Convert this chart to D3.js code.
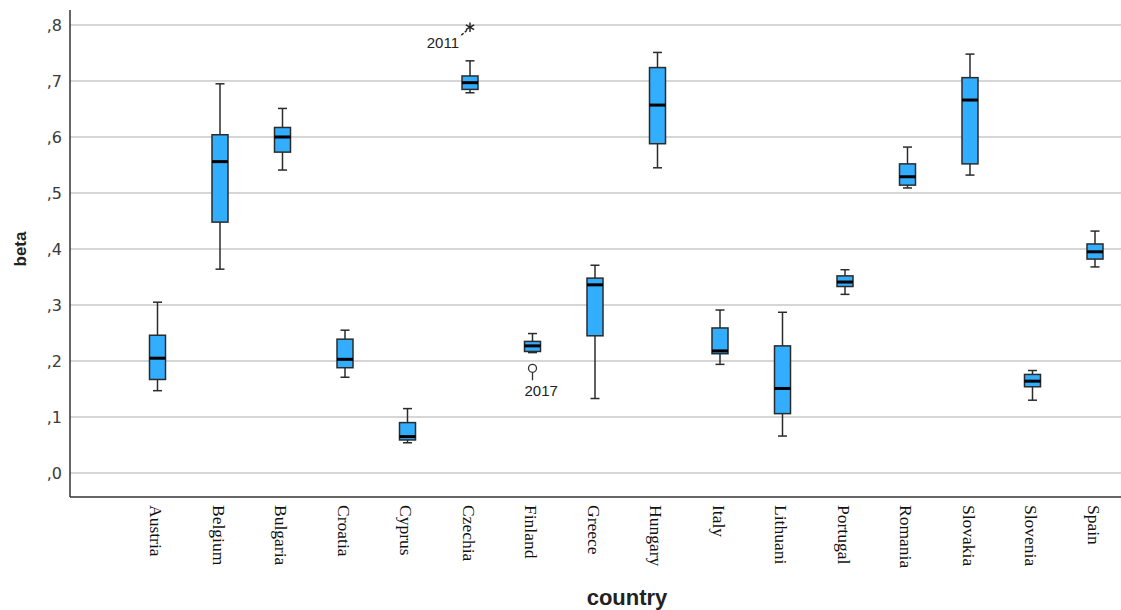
<!DOCTYPE html>
<html>
<head>
<meta charset="utf-8">
<script src="https://cdn.jsdelivr.net/npm/d3@7"></script>
<style>
  html, body { margin: 0; padding: 0; background: #fff; }
  svg { display: block; }
</style>
</head>
<body>
<svg id="chart" width="1121" height="610"></svg>
<script>
// Beta by country: five-number summaries per country
const countries = ["Austria", "Belgium", "Bulgaria", "Croatia", "Cyprus", "Czechia", "Finland", "Greece",
  "Hungary", "Italy", "Lithuani", "Portugal", "Romania", "Slovakia", "Slovenia", "Spain"];
const whiskerLow  = [0.147, 0.364, 0.541, 0.171, 0.054, 0.679, 0.215, 0.133, 0.545, 0.194, 0.066, 0.319, 0.509, 0.532, 0.130, 0.368];
const q1          = [0.167, 0.448, 0.573, 0.188, 0.059, 0.685, 0.217, 0.245, 0.588, 0.213, 0.106, 0.333, 0.514, 0.552, 0.154, 0.382];
const median      = [0.205, 0.556, 0.600, 0.203, 0.065, 0.697, 0.227, 0.336, 0.657, 0.218, 0.151, 0.341, 0.529, 0.666, 0.164, 0.395];
const q3          = [0.246, 0.604, 0.617, 0.239, 0.090, 0.709, 0.235, 0.348, 0.724, 0.259, 0.227, 0.352, 0.552, 0.706, 0.176, 0.409];
const whiskerHigh = [0.305, 0.695, 0.651, 0.255, 0.115, 0.736, 0.249, 0.371, 0.751, 0.291, 0.287, 0.363, 0.582, 0.748, 0.183, 0.432];

// Points outside the whiskers: extreme (*) and outlier (o)
const outlierCountry = ["Czechia", "Finland"];
const outlierValue   = [0.796, 0.187];
const outlierKind    = ["extreme", "outlier"];
const outlierLabel   = ["2011", "2017"];

const yTicks = [0, 0.1, 0.2, 0.3, 0.4, 0.5, 0.6, 0.7, 0.8];

const svg = d3.select("#chart");
const W = 1121, H = 610;
const plot = { left: 70, right: W, top: 10, bottom: 497 };

const y = d3.scaleLinear().domain([0, 0.8]).range([473, 25]);
const x = d3.scalePoint().domain(countries).range([157.5, 1095]);

const boxW = 16, capW = 9;
const fill = "#33aefe", stroke = "#2b2b2b";

// horizontal grid
svg.append("g")
  .selectAll("line")
  .data(yTicks)
  .join("line")
  .attr("x1", plot.left).attr("x2", plot.right)
  .attr("y1", d => y(d)).attr("y2", d => y(d))
  .attr("stroke", "#c8c8c8").attr("stroke-width", 1.5);

// y axis
const fmt = d => "," + Math.round(d * 10);
const yAxis = d3.axisLeft(y).tickValues(yTicks).tickFormat(fmt).tickSize(0).tickPadding(8);
const gy = svg.append("g").attr("transform", `translate(${plot.left},0)`).call(yAxis);
gy.select(".domain").remove();
gy.selectAll("text")
  .attr("font-family", "'DejaVu Sans', sans-serif")
  .attr("font-size", 16)
  .attr("fill", "#3a3a3a");

// axis frame lines
svg.append("line")
  .attr("x1", plot.left).attr("x2", plot.left)
  .attr("y1", plot.top).attr("y2", plot.bottom)
  .attr("stroke", "#333").attr("stroke-width", 1.5);
svg.append("line")
  .attr("x1", plot.left).attr("x2", plot.right)
  .attr("y1", plot.bottom).attr("y2", plot.bottom)
  .attr("stroke", "#333").attr("stroke-width", 1.5);

// x axis category labels (rotated, reading downward)
const xAxis = d3.axisBottom(x).tickSize(0).tickPadding(0);
const gx = svg.append("g").attr("transform", `translate(0,${plot.bottom})`).call(xAxis);
gx.select(".domain").remove();
gx.selectAll("text")
  .attr("font-family", "'Liberation Serif', 'DejaVu Serif', serif")
  .attr("font-size", 17.5)
  .attr("fill", "#111")
  .attr("text-anchor", "start")
  .attr("dy", null)
  .attr("dominant-baseline", "central")
  .attr("transform", "translate(-2,8) rotate(90)")
  .attr("x", 0).attr("y", 0);

// boxes
const rows = countries.map((c, i) => ({
  c, lo: whiskerLow[i], q1: q1[i], med: median[i], q3: q3[i], hi: whiskerHigh[i]
}));
const g = svg.append("g").selectAll("g").data(rows).join("g")
  .attr("transform", d => `translate(${x(d.c)},0)`);

g.append("line").attr("x1", 0).attr("x2", 0)
  .attr("y1", d => y(d.hi)).attr("y2", d => y(d.q3))
  .attr("stroke", stroke).attr("stroke-width", 1.5);
g.append("line").attr("x1", 0).attr("x2", 0)
  .attr("y1", d => y(d.q1)).attr("y2", d => y(d.lo))
  .attr("stroke", stroke).attr("stroke-width", 1.5);
g.append("line").attr("x1", -capW / 2).attr("x2", capW / 2)
  .attr("y1", d => y(d.hi)).attr("y2", d => y(d.hi))
  .attr("stroke", stroke).attr("stroke-width", 1.5);
g.append("line").attr("x1", -capW / 2).attr("x2", capW / 2)
  .attr("y1", d => y(d.lo)).attr("y2", d => y(d.lo))
  .attr("stroke", stroke).attr("stroke-width", 1.5);
g.append("rect")
  .attr("x", -boxW / 2).attr("width", boxW)
  .attr("y", d => y(d.q3)).attr("height", d => y(d.q1) - y(d.q3))
  .attr("fill", fill).attr("stroke", stroke).attr("stroke-width", 1.5);
g.append("line").attr("x1", -boxW / 2).attr("x2", boxW / 2)
  .attr("y1", d => y(d.med)).attr("y2", d => y(d.med))
  .attr("stroke", "#000").attr("stroke-width", 3);

// outliers and their labels
const outs = outlierCountry.map((c, i) => ({
  c, v: outlierValue[i], kind: outlierKind[i], label: outlierLabel[i]
}));
const og = svg.append("g").selectAll("g").data(outs).join("g")
  .attr("transform", d => `translate(${x(d.c)},${y(d.v)})`);

og.each(function(d) {
  const s = d3.select(this);
  if (d.kind === "extreme") {
    s.append("path")
      .attr("d", d3.symbol(d3.symbolAsterisk, 64)())
      .attr("fill", "none").attr("stroke", "#222").attr("stroke-width", 1.4);
    s.append("line")
      .attr("x1", -3).attr("y1", 3).attr("x2", -10).attr("y2", 9)
      .attr("stroke", "#222").attr("stroke-width", 1.4).attr("stroke-dasharray", "3,1.5");
    s.append("text")
      .attr("x", -11).attr("y", 21)
      .attr("text-anchor", "end")
      .attr("font-family", "'Liberation Sans', Arial, sans-serif")
      .attr("font-size", 15).attr("fill", "#222")
      .text(d.label);
  } else {
    s.append("circle").attr("r", 4)
      .attr("fill", "#fff").attr("stroke", "#333").attr("stroke-width", 1.3);
    s.append("line")
      .attr("x1", 0).attr("y1", 4).attr("x2", 0).attr("y2", 12)
      .attr("stroke", "#333").attr("stroke-width", 1.3);
    s.append("text")
      .attr("x", -8).attr("y", 28)
      .attr("text-anchor", "start")
      .attr("font-family", "'Liberation Sans', Arial, sans-serif")
      .attr("font-size", 15).attr("fill", "#222")
      .text(d.label);
  }
});

// axis titles
svg.append("text")
  .attr("transform", `translate(26,249) rotate(-90)`)
  .attr("text-anchor", "middle")
  .attr("font-family", "'Liberation Sans', Arial, sans-serif")
  .attr("font-weight", "bold").attr("font-size", 17)
  .attr("fill", "#222")
  .text("beta");

svg.append("text")
  .attr("x", 627).attr("y", 605)
  .attr("text-anchor", "middle")
  .attr("font-family", "'Liberation Sans', Arial, sans-serif")
  .attr("font-weight", "bold").attr("font-size", 22)
  .attr("fill", "#222")
  .text("country");
</script>
</body>
</html>
